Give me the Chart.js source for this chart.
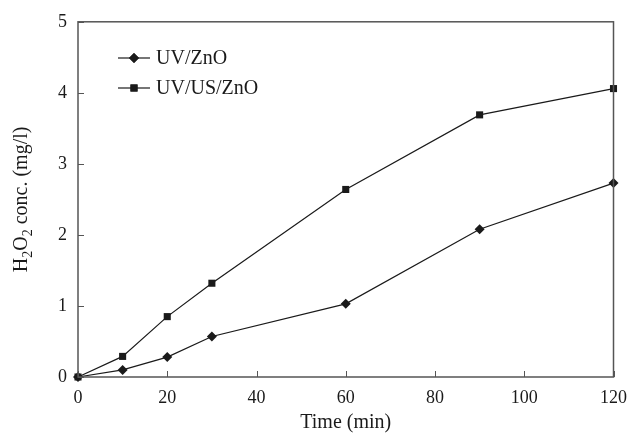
<!DOCTYPE html>
<html>
<head>
<meta charset="utf-8">
<script src="https://cdn.jsdelivr.net/npm/chart.js@4"></script>
<style>
  html, body { margin: 0; padding: 0; background: #fff; }
  #wrap { width: 637px; height: 435px; }
</style>
</head>
<body>
<div id="wrap"><canvas id="h2o2Chart" width="637" height="435"></canvas></div>
<script>
// data
var times = [0, 10, 20, 30, 60, 90, 120];
var uvZnO = [0, 0.10, 0.28, 0.57, 1.03, 2.08, 2.73];
var uvUsZnO = [0, 0.29, 0.85, 1.32, 2.64, 3.69, 4.06];
var xTicks = [0, 20, 40, 60, 80, 100, 120];
var yTicks = [0, 1, 2, 3, 4, 5];

var serif = '"Liberation Serif", "Times New Roman", serif';
var ink = '#1a1a1a';
var frame = '#555';

function pts(ys) {
    return times.map(function (t, i) { return {x: t, y: ys[i]}; });
}

// box, inward ticks, legend and subscripted y title
var decor = {
    id: 'decor',
    afterDraw: function (chart) {
        var c = chart.ctx, a = chart.chartArea;
        var xs = chart.scales.x, ys = chart.scales.y;
        c.save();
        c.strokeStyle = frame;
        c.lineWidth = 1.5;
        c.strokeRect(a.left, a.top, a.right - a.left, a.bottom - a.top);
        c.lineWidth = 1;
        xTicks.forEach(function (v) {
            var px = Math.round(xs.getPixelForValue(v)) + 0.5;
            c.beginPath(); c.moveTo(px, a.bottom); c.lineTo(px, a.bottom - 6); c.stroke();
        });
        yTicks.forEach(function (v) {
            var py = Math.round(ys.getPixelForValue(v)) + 0.5;
            c.beginPath(); c.moveTo(a.left, py); c.lineTo(a.left + 6, py); c.stroke();
        });

        // legend
        c.font = '20px ' + serif;
        c.textBaseline = 'middle';
        c.fillStyle = ink;
        chart.data.datasets.forEach(function (ds, i) {
            var y = 58 + i * 30;
            c.strokeStyle = ink;
            c.lineWidth = 1.2;
            c.beginPath(); c.moveTo(118, y); c.lineTo(150, y); c.stroke();
            Chart.helpers.drawPoint(c, {pointStyle: ds.pointStyle, radius: ds.pointRadius, borderWidth: 0}, 134, y);
            c.fillStyle = ink;
            c.fill();
            c.fillText(ds.label, 156, y + 1);
        });

        // y title with subscripts
        var parts = [['H', 0], ['2', 1], ['O', 0], ['2', 1], [' conc. (mg/l)', 0]];
        var big = '20px ' + serif, small = '14px ' + serif;
        var w = 0;
        parts.forEach(function (p) { c.font = p[1] ? small : big; w += c.measureText(p[0]).width; });
        c.translate(22, (a.top + a.bottom) / 2);
        c.rotate(-Math.PI / 2);
        c.textBaseline = 'middle';
        c.textAlign = 'left';
        var x = -w / 2;
        parts.forEach(function (p) {
            c.font = p[1] ? small : big;
            c.fillText(p[0], x, p[1] ? 6 : 0);
            x += c.measureText(p[0]).width;
        });
        c.restore();
    }
};

var ctx = document.getElementById('h2o2Chart').getContext('2d');
var h2o2Chart = new Chart(ctx, {
    type: 'line',
    data: {
        datasets: [{
            label: 'UV/ZnO',
            data: pts(uvZnO),
            borderColor: ink,
            backgroundColor: ink,
            borderWidth: 1.2,
            pointStyle: 'rectRot',
            pointRadius: 5,
            pointBorderWidth: 0,
            tension: 0
        }, {
            label: 'UV/US/ZnO',
            data: pts(uvUsZnO),
            borderColor: ink,
            backgroundColor: ink,
            borderWidth: 1.2,
            pointStyle: 'rect',
            pointRadius: 5,
            pointBorderWidth: 0,
            tension: 0
        }]
    },
    options: {
        responsive: false,
        animation: false,
        clip: false,
        layout: { padding: { top: 19, right: 13, left: 0, bottom: 0 } },
        plugins: { legend: { display: false }, tooltip: { enabled: false } },
        scales: {
            x: {
                type: 'linear',
                min: 0, max: 120,
                afterFit: function (s) { s.height = 58; },
                afterBuildTicks: function (s) { s.ticks = xTicks.map(function (v) { return {value: v}; }); },
                grid: { display: false, drawTicks: false },
                border: { display: false },
                ticks: { padding: 10, color: ink, font: { family: serif, size: 18 } },
                title: { display: true, text: 'Time (min)', color: ink, padding: { top: 0, bottom: 0 },
                         font: { family: serif, size: 20 } }
            },
            y: {
                min: 0, max: 5,
                afterFit: function (s) { s.width = 78; },
                afterBuildTicks: function (s) { s.ticks = yTicks.map(function (v) { return {value: v}; }); },
                grid: { display: false, drawTicks: false },
                border: { display: false },
                ticks: { padding: 11, color: ink, font: { family: serif, size: 18 } }
            }
        }
    },
    plugins: [decor]
});
</script>
</body>
</html>
